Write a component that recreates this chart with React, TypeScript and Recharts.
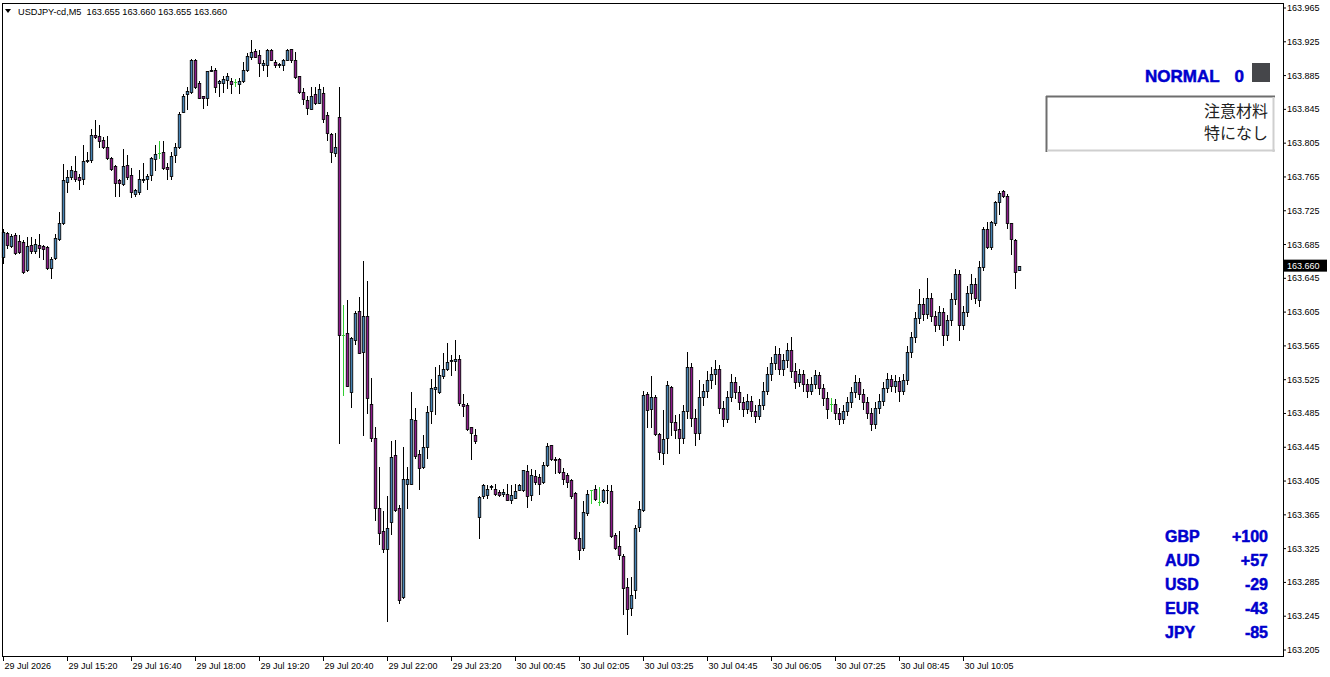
import React from "react";
import { ComposedChart, Bar, XAxis, YAxis, ReferenceLine } from "recharts";

// USDJPY-cd M5, 255 bars (29 Jul 14:00 -> 30 Jul 11:15)
const opens = [
  163.670, 163.699, 163.683, 163.696, 163.689, 163.688, 163.655, 163.684, 163.677, 163.685,
  163.683, 163.682, 163.657, 163.669, 163.692, 163.710, 163.759, 163.765, 163.772, 163.765,
  163.762, 163.784, 163.785, 163.815, 163.813, 163.809, 163.800, 163.787, 163.778, 163.761,
  163.757, 163.779, 163.767, 163.745, 163.747, 163.761, 163.762, 163.767, 163.786, 163.793,
  163.794, 163.777, 163.766, 163.791, 163.800, 163.842, 163.863, 163.866, 163.904, 163.876,
  163.861, 163.859, 163.890, 163.892, 163.876, 163.876, 163.880, 163.879, 163.877, 163.875,
  163.878, 163.892, 163.907, 163.914, 163.909, 163.898, 163.898, 163.915, 163.901, 163.897,
  163.898, 163.904, 163.916, 163.904, 163.885, 163.865, 163.856, 163.846, 163.863, 163.853,
  163.864, 163.838, 163.816, 163.793, 163.836, 163.578, 163.580, 163.511, 163.572, 163.606,
  163.558, 163.600, 163.496, 163.456, 163.373, 163.346, 163.325, 163.357, 163.436, 163.373,
  163.268, 163.401, 163.402, 163.477, 163.437, 163.422, 163.445, 163.488, 163.514, 163.510,
  163.529, 163.538, 163.547, 163.547, 163.550, 163.496, 163.495, 163.469, 163.460, 163.362,
  163.387, 163.388, 163.398, 163.396, 163.392, 163.390, 163.390, 163.382, 163.385, 163.394,
  163.394, 163.417, 163.388, 163.411, 163.410, 163.404, 163.424, 163.448, 163.431, 163.431,
  163.416, 163.412, 163.406, 163.391, 163.337, 163.326, 163.367, 163.394, 163.396, 163.380,
  163.381, 163.394, 163.393, 163.341, 163.328, 163.316, 163.279, 163.255, 163.276, 163.351,
  163.371, 163.508, 163.490, 163.504, 163.461, 163.438, 163.456, 163.516, 163.475, 163.467,
  163.456, 163.488, 163.540, 163.480, 163.462, 163.505, 163.512, 163.525, 163.532, 163.538,
  163.492, 163.478, 163.505, 163.522, 163.510, 163.498, 163.490, 163.500, 163.488, 163.482,
  163.495, 163.512, 163.532, 163.545, 163.555, 163.538, 163.548, 163.560, 163.535, 163.522,
  163.532, 163.520, 163.512, 163.520, 163.530, 163.515, 163.503, 163.496, 163.496, 163.485,
  163.478, 163.488, 163.498, 163.510, 163.522, 163.508, 163.498, 163.486, 163.472, 163.492,
  163.500, 163.515, 163.526, 163.518, 163.524, 163.512, 163.525, 163.558, 163.575, 163.598,
  163.615, 163.603, 163.622, 163.600, 163.590, 163.605, 163.578, 163.596, 163.620, 163.650,
  163.590, 163.605, 163.628, 163.638, 163.619, 163.658, 163.703, 163.682, 163.710, 163.735,
  163.748, 163.742, 163.710, 163.690, 163.655,
];

const highs = [
  163.703, 163.700, 163.697, 163.699, 163.696, 163.690, 163.694, 163.694, 163.692, 163.697,
  163.685, 163.683, 163.670, 163.698, 163.724, 163.780, 163.773, 163.778, 163.790, 163.769,
  163.803, 163.795, 163.822, 163.833, 163.826, 163.812, 163.813, 163.789, 163.779, 163.763,
  163.798, 163.791, 163.775, 163.751, 163.773, 163.781, 163.768, 163.789, 163.803, 163.807,
  163.807, 163.782, 163.795, 163.805, 163.842, 163.863, 163.871, 163.905, 163.905, 163.878,
  163.861, 163.890, 163.896, 163.894, 163.880, 163.884, 163.888, 163.882, 163.881, 163.882,
  163.901, 163.912, 163.927, 163.917, 163.915, 163.904, 163.916, 163.917, 163.903, 163.900,
  163.905, 163.916, 163.917, 163.913, 163.885, 163.870, 163.861, 163.872, 163.872, 163.875,
  163.871, 163.842, 163.817, 163.817, 163.872, 163.614, 163.619, 163.576, 163.606, 163.623,
  163.665, 163.642, 163.527, 163.469, 163.422, 163.369, 163.387, 163.452, 163.454, 163.377,
  163.445, 163.422, 163.510, 163.491, 163.442, 163.460, 163.494, 163.526, 163.540, 163.542,
  163.557, 163.568, 163.554, 163.572, 163.554, 163.508, 163.497, 163.469, 163.467, 163.387,
  163.402, 163.400, 163.400, 163.401, 163.394, 163.396, 163.401, 163.400, 163.402, 163.401,
  163.418, 163.424, 163.419, 163.418, 163.413, 163.428, 163.450, 163.448, 163.434, 163.432,
  163.420, 163.414, 163.408, 163.392, 163.345, 163.381, 163.394, 163.395, 163.400, 163.398,
  163.396, 163.400, 163.400, 163.343, 163.346, 163.319, 163.290, 163.291, 163.353, 163.381,
  163.512, 163.511, 163.529, 163.507, 163.462, 163.489, 163.523, 163.517, 163.483, 163.484,
  163.495, 163.558, 163.545, 163.490, 163.525, 163.520, 163.535, 163.540, 163.548, 163.542,
  163.500, 163.512, 163.532, 163.528, 163.518, 163.505, 163.508, 163.506, 163.495, 163.502,
  163.522, 163.540, 163.552, 163.565, 163.562, 163.555, 163.568, 163.575, 163.545, 163.538,
  163.536, 163.526, 163.528, 163.537, 163.534, 163.520, 163.510, 163.503, 163.502, 163.492,
  163.495, 163.505, 163.516, 163.530, 163.527, 163.514, 163.505, 163.492, 163.498, 163.508,
  163.522, 163.533, 163.530, 163.530, 163.528, 163.532, 163.565, 163.582, 163.605, 163.632,
  163.622, 163.645, 163.628, 163.606, 163.612, 163.610, 163.602, 163.628, 163.656, 163.655,
  163.612, 163.636, 163.650, 163.645, 163.665, 163.706, 163.712, 163.713, 163.737, 163.748,
  163.750, 163.745, 163.711, 163.691, 163.660,
];

const lows = [
  163.663, 163.681, 163.682, 163.674, 163.675, 163.651, 163.654, 163.675, 163.675, 163.670,
  163.668, 163.656, 163.645, 163.668, 163.690, 163.709, 163.747, 163.762, 163.760, 163.751,
  163.757, 163.783, 163.783, 163.811, 163.800, 163.799, 163.786, 163.773, 163.743, 163.743,
  163.755, 163.763, 163.741, 163.743, 163.745, 163.759, 163.751, 163.761, 163.773, 163.788,
  163.774, 163.762, 163.762, 163.783, 163.799, 163.842, 163.845, 163.864, 163.870, 163.858,
  163.847, 163.850, 163.890, 163.865, 163.861, 163.866, 163.870, 163.864, 163.873, 163.864,
  163.877, 163.891, 163.905, 163.907, 163.884, 163.892, 163.885, 163.903, 163.895, 163.895,
  163.892, 163.903, 163.901, 163.882, 163.864, 163.851, 163.840, 163.845, 163.851, 163.852,
  163.830, 163.809, 163.783, 163.790, 163.450, 163.507, 163.517, 163.493, 163.567, 163.556,
  163.460, 163.485, 163.452, 163.359, 163.330, 163.321, 163.239, 163.342, 163.369, 163.261,
  163.266, 163.373, 163.401, 163.432, 163.396, 163.420, 163.432, 163.474, 163.484, 163.509,
  163.527, 163.536, 163.531, 163.536, 163.495, 163.482, 163.465, 163.431, 163.450, 163.338,
  163.385, 163.385, 163.396, 163.389, 163.387, 163.387, 163.383, 163.379, 163.385, 163.394,
  163.393, 163.374, 163.383, 163.402, 163.390, 163.403, 163.423, 163.430, 163.414, 163.414,
  163.401, 163.398, 163.385, 163.336, 163.313, 163.323, 163.365, 163.379, 163.383, 163.377,
  163.380, 163.379, 163.339, 163.325, 163.313, 163.248, 163.224, 163.246, 163.266, 163.346,
  163.369, 163.469, 163.469, 163.460, 163.431, 163.425, 163.438, 163.460, 163.456, 163.438,
  163.450, 163.480, 163.470, 163.448, 163.455, 163.495, 163.505, 163.515, 163.520, 163.485,
  163.470, 163.475, 163.500, 163.503, 163.490, 163.482, 163.485, 163.482, 163.475, 163.478,
  163.490, 163.508, 163.525, 163.538, 163.532, 163.530, 163.540, 163.528, 163.515, 163.518,
  163.512, 163.505, 163.508, 163.515, 163.508, 163.495, 163.480, 163.488, 163.478, 163.472,
  163.474, 163.483, 163.493, 163.505, 163.502, 163.490, 163.480, 163.465, 163.468, 163.486,
  163.495, 163.510, 163.512, 163.510, 163.500, 163.508, 163.520, 163.552, 163.570, 163.592,
  163.596, 163.598, 163.594, 163.583, 163.585, 163.566, 163.572, 163.590, 163.615, 163.572,
  163.585, 163.600, 163.620, 163.616, 163.612, 163.655, 163.681, 163.680, 163.708, 163.721,
  163.741, 163.705, 163.674, 163.633, 163.655,
];

const closes = [
  163.700, 163.684, 163.695, 163.675, 163.676, 163.652, 163.683, 163.677, 163.686, 163.681,
  163.680, 163.657, 163.668, 163.693, 163.710, 163.761, 163.765, 163.773, 163.763, 163.761,
  163.784, 163.785, 163.815, 163.812, 163.807, 163.800, 163.787, 163.774, 163.758, 163.758,
  163.778, 163.765, 163.747, 163.749, 163.763, 163.762, 163.766, 163.787, 163.792, 163.793,
  163.775, 163.774, 163.790, 163.800, 163.840, 163.861, 163.867, 163.904, 163.872, 163.859,
  163.859, 163.890, 163.892, 163.872, 163.879, 163.881, 163.884, 163.875, 163.877, 163.879,
  163.892, 163.908, 163.913, 163.907, 163.900, 163.900, 163.915, 163.903, 163.897, 163.899,
  163.904, 163.915, 163.903, 163.883, 163.865, 163.857, 163.847, 163.861, 163.853, 163.869,
  163.834, 163.817, 163.795, 163.800, 163.578, 163.578, 163.518, 163.574, 163.604, 163.557,
  163.600, 163.503, 163.456, 163.373, 163.344, 163.325, 163.350, 163.434, 163.371, 163.264,
  163.407, 163.407, 163.478, 163.435, 163.421, 163.445, 163.487, 163.515, 163.516, 163.531,
  163.538, 163.546, 163.548, 163.549, 163.497, 163.494, 163.467, 163.462, 163.452, 163.386,
  163.400, 163.396, 163.399, 163.390, 163.388, 163.392, 163.383, 163.389, 163.393, 163.400,
  163.418, 163.387, 163.412, 163.404, 163.402, 163.424, 163.447, 163.431, 163.430, 163.416,
  163.408, 163.404, 163.387, 163.338, 163.323, 163.368, 163.390, 163.394, 163.384, 163.380,
  163.394, 163.395, 163.340, 163.326, 163.318, 163.278, 163.254, 163.270, 163.350, 163.372,
  163.507, 163.489, 163.505, 163.461, 163.439, 163.455, 163.519, 163.475, 163.465, 163.456,
  163.488, 163.540, 163.480, 163.462, 163.505, 163.512, 163.525, 163.532, 163.538, 163.492,
  163.478, 163.505, 163.522, 163.510, 163.498, 163.490, 163.500, 163.488, 163.482, 163.495,
  163.512, 163.532, 163.545, 163.555, 163.538, 163.548, 163.560, 163.535, 163.522, 163.532,
  163.520, 163.512, 163.520, 163.530, 163.515, 163.503, 163.490, 163.496, 163.485, 163.478,
  163.488, 163.498, 163.510, 163.522, 163.508, 163.498, 163.486, 163.472, 163.492, 163.500,
  163.515, 163.526, 163.518, 163.524, 163.512, 163.525, 163.558, 163.575, 163.598, 163.615,
  163.603, 163.622, 163.600, 163.590, 163.605, 163.578, 163.596, 163.620, 163.650, 163.590,
  163.605, 163.628, 163.638, 163.622, 163.658, 163.703, 163.682, 163.712, 163.735, 163.746,
  163.742, 163.710, 163.691, 163.652, 163.660,
];

const priceTicks = [
  163.205, 163.245, 163.285, 163.325, 163.365, 163.405, 163.445, 163.485, 163.525, 163.565,
  163.605, 163.645, 163.685, 163.725, 163.765, 163.805, 163.845, 163.885, 163.925, 163.965,
];

const timeTickIdx = [0, 16, 32, 48, 64, 80, 96, 112, 128, 144, 160, 176, 192, 208, 224, 240];
const timeTickLabels = [
  "29 Jul 2026", "29 Jul 15:20", "29 Jul 16:40", "29 Jul 18:00", "29 Jul 19:20", "29 Jul 20:40",
  "29 Jul 22:00", "29 Jul 23:20", "30 Jul 00:45", "30 Jul 02:05", "30 Jul 03:25", "30 Jul 04:45",
  "30 Jul 06:05", "30 Jul 07:25", "30 Jul 08:45", "30 Jul 10:05",
];

const strengthNames = ["GBP", "AUD", "USD", "EUR", "JPY"];
const strengthValues = ["+100", "+57", "-29", "-43", "-85"];

const BULL = "#4682B4";
const BEAR = "#8B1A8B";
const DOJI = "#32CD32";
const BLUE = "#0000CD";
const FONT = "'Liberation Sans', Arial, sans-serif";

const data = closes.map((c, i) => ({
  i,
  o: opens[i],
  h: highs[i],
  l: lows[i],
  c,
  range: [lows[i], highs[i]],
}));

const Candle = (props: any) => {
  const { x, y, width, height, payload } = props;
  if (x == null || y == null || !payload) return null;
  const cx = Math.floor(x + width / 2) + 0.5;
  const top = Math.min(y, y + height);
  const h = Math.abs(height);
  const span = payload.h - payload.l;
  const k = span > 0 ? h / span : 0;
  const py = (v: number) => top + (payload.h - v) * k;
  const yo = py(payload.o);
  const yc = py(payload.c);
  const yH = Math.round(top);
  const yL = Math.round(top + h) + 1;
  if (payload.o === payload.c) {
    const yy = Math.round(yo) + 0.5;
    return (
      <g>
        <line x1={cx} x2={cx} y1={yH} y2={yL} stroke={DOJI} strokeWidth={1} />
        <line x1={cx - 1.5} x2={cx + 1.5} y1={yy} y2={yy} stroke={DOJI} strokeWidth={1} />
      </g>
    );
  }
  const bTop = Math.round(Math.min(yo, yc)) + 0.5;
  const bBot = Math.round(Math.max(yo, yc)) + 0.5;
  const fill = payload.c > payload.o ? BULL : BEAR;
  return (
    <g>
      <line x1={cx} x2={cx} y1={yH} y2={yL} stroke="#000" strokeWidth={1} />
      {bBot - bTop < 1 ? (
        <line x1={cx - 1.5} x2={cx + 1.5} y1={bTop} y2={bTop} stroke="#000" strokeWidth={1} />
      ) : (
        <rect x={cx - 1.25} y={bTop} width={2.5} height={bBot - bTop} fill={fill} stroke="#000" strokeWidth={0.85} />
      )}
    </g>
  );
};

const TimeTick = (props: any) => {
  const { x, y, payload } = props;
  const idx = timeTickIdx.indexOf(payload.value);
  return (
    <text x={x + 1} y={y + 6} fontSize={9} fontFamily={FONT} fill="#000" textAnchor="start">
      {idx >= 0 ? timeTickLabels[idx] : ""}
    </text>
  );
};

const PriceTick = (props: any) => {
  const { x, y, payload } = props;
  return (
    <text x={x} y={y + 3} fontSize={9} fontFamily={FONT} fill="#000" textAnchor="start">
      {Number(payload.value).toFixed(3)}
    </text>
  );
};

const lastClose = closes[closes.length - 1];

const PriceBadge = (props: any) => {
  const vb = props.viewBox;
  if (!vb) return null;
  const left = vb.x + vb.width + 1;
  return (
    <g>
      <rect x={left} y={vb.y - 6} width={43} height={12} fill="#000" />
      <text x={left + 3} y={vb.y + 3.5} fontSize={9} fontFamily={FONT} fill="#fff">
        {lastClose.toFixed(3)}
      </text>
    </g>
  );
};

const boldText = {
  fontSize: 16,
  fontWeight: "bold" as const,
  fontFamily: FONT,
  fill: BLUE,
  stroke: BLUE,
  strokeWidth: 0.5,
};

export default function App() {
  return (
    <div
      style={{
        position: "absolute",
        left: 0,
        top: 0,
        width: 1330,
        height: 677,
        background: "#fff",
        overflow: "hidden",
      }}
    >
      <ComposedChart
        width={1330}
        height={677}
        data={data}
        margin={{ top: 2, right: 0, bottom: 0, left: 0 }}
      >
        <XAxis
          dataKey="i"
          type="number"
          domain={[-0.875, 319.875]}
          allowDataOverflow
          ticks={timeTickIdx}
          interval={0}
          height={21}
          axisLine={false}
          tickLine={{ stroke: "#000" }}
          tickSize={5}
          tick={<TimeTick />}
        />
        <YAxis
          orientation="right"
          type="number"
          domain={[163.1979, 163.9721]}
          allowDataOverflow
          ticks={priceTicks}
          interval={0}
          width={47}
          axisLine={false}
          tickLine={{ stroke: "#000" }}
          tickSize={3}
          tickMargin={1}
          tick={<PriceTick />}
        />
        <Bar dataKey="range" barSize={3} shape={<Candle />} isAnimationActive={false} />
        <ReferenceLine y={lastClose} stroke="transparent" label={<PriceBadge />} />
      </ComposedChart>

      <div
        style={{
          position: "absolute",
          left: 2,
          top: 3,
          width: 1282,
          height: 654,
          boxSizing: "border-box",
          border: "1px solid #000",
          pointerEvents: "none",
        }}
      />

      <svg
        width={1330}
        height={677}
        style={{ position: "absolute", left: 0, top: 0, pointerEvents: "none" }}
      >
        <polygon points="5,9 11,9 8,13" fill="#000" />
        <text x={18} y={15} fontSize={9.2} fontFamily={FONT} fill="#000" style={{ whiteSpace: "pre" }}>
          {"USDJPY-cd,M5  163.655 163.660 163.655 163.660"}
        </text>

        <text x={1145} y={82} {...boldText} fontSize={17}>
          NORMAL
        </text>
        <text x={1244} y={82} {...boldText} fontSize={17} textAnchor="end">
          0
        </text>
        <rect x={1252} y={63} width={18} height={19} fill="#45464a" />

        <rect x={1047} y={97} width={226} height={53} fill="#fff" />
        <line x1={1046} x2={1275} y1={96.5} y2={96.5} stroke="#6e6e6e" strokeWidth={2} />
        <line x1={1046.5} x2={1046.5} y1={96} y2={152} stroke="#6e6e6e" strokeWidth={2} />
        <line x1={1273.5} x2={1273.5} y1={97} y2={152} stroke="#cfcfcf" strokeWidth={2} />
        <line x1={1047} x2={1275} y1={150.5} y2={150.5} stroke="#cfcfcf" strokeWidth={2} />
        <text x={1268} y={117} fontSize={16} fontFamily="'Noto Sans CJK JP', sans-serif" fill="#222" textAnchor="end">
          注意材料
        </text>
        <text x={1268} y={139} fontSize={16} fontFamily="'Noto Sans CJK JP', sans-serif" fill="#222" textAnchor="end">
          特になし
        </text>

        {strengthNames.map((n, k) => (
          <g key={n}>
            <text x={1165} y={541.5 + k * 24} {...boldText}>
              {n}
            </text>
            <text x={1268} y={541.5 + k * 24} {...boldText} textAnchor="end">
              {strengthValues[k]}
            </text>
          </g>
        ))}
      </svg>
    </div>
  );
}
